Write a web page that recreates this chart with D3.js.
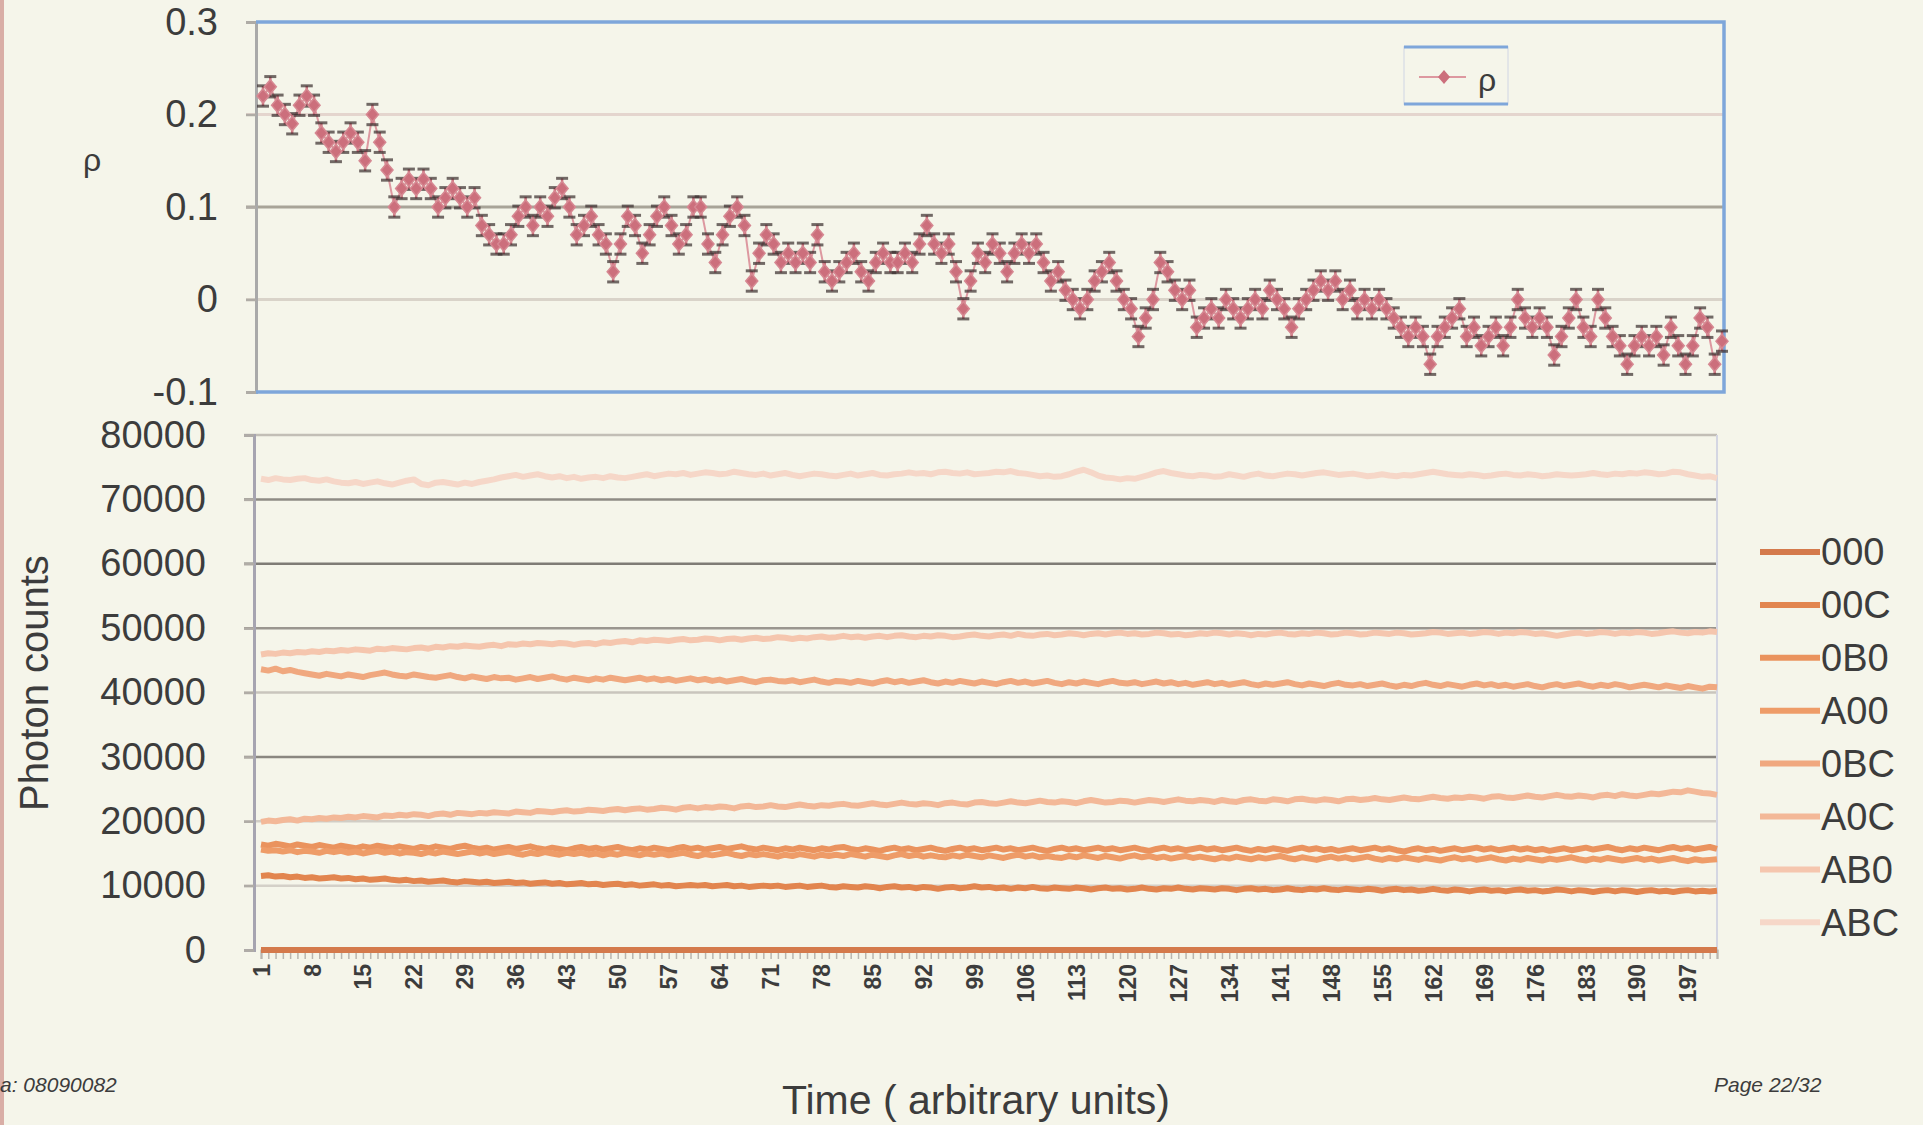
<!DOCTYPE html>
<html><head><meta charset="utf-8">
<script src="https://cdn.jsdelivr.net/npm/d3@7"></script>
<style>
html,body{margin:0;padding:0;background:#f5f5ea;}
svg{display:block;}
text{font-family:"Liberation Sans",Arial,sans-serif;fill:#3c3c3c;}
</style></head><body>
<svg id="c" width="1923" height="1125"></svg>
<script>
// ---------- DATA ----------
const timePoints = [
1,2,3,4,5,6,7,8,9,10,11,12,13,14,15,16,17,18,19,20,
21,22,23,24,25,26,27,28,29,30,31,32,33,34,35,36,37,38,39,40,
41,42,43,44,45,46,47,48,49,50,51,52,53,54,55,56,57,58,59,60,
61,62,63,64,65,66,67,68,69,70,71,72,73,74,75,76,77,78,79,80,
81,82,83,84,85,86,87,88,89,90,91,92,93,94,95,96,97,98,99,100,
101,102,103,104,105,106,107,108,109,110,111,112,113,114,115,116,117,118,119,120,
121,122,123,124,125,126,127,128,129,130,131,132,133,134,135,136,137,138,139,140,
141,142,143,144,145,146,147,148,149,150,151,152,153,154,155,156,157,158,159,160,
161,162,163,164,165,166,167,168,169,170,171,172,173,174,175,176,177,178,179,180,
181,182,183,184,185,186,187,188,189,190,191,192,193,194,195,196,197,198,199,200,201];
const timeTickLabels = [1,8,15,22,29,36,43,50,57,64,71,78,85,92,99,106,113,120,127,134,141,148,155,162,169,176,183,190,197];
const rhoTicks = [0.3,0.2,0.1,0,-0.1];
const countTicks = [80000,70000,60000,50000,40000,30000,20000,10000,0];
const rhoError = 0.011;

const rho = [
0.22,0.23,0.21,0.20,0.19,0.21,0.22,0.21,0.18,0.17,
0.16,0.17,0.18,0.17,0.15,0.20,0.17,0.14,0.10,0.12,
0.13,0.12,0.13,0.12,0.10,0.11,0.12,0.11,0.10,0.11,
0.08,0.07,0.06,0.06,0.07,0.09,0.10,0.08,0.10,0.09,
0.11,0.12,0.10,0.07,0.08,0.09,0.07,0.06,0.03,0.06,
0.09,0.08,0.05,0.07,0.09,0.10,0.08,0.06,0.07,0.10,
0.10,0.06,0.04,0.07,0.09,0.10,0.08,0.02,0.05,0.07,
0.06,0.04,0.05,0.04,0.05,0.04,0.07,0.03,0.02,0.03,
0.04,0.05,0.03,0.02,0.04,0.05,0.04,0.04,0.05,0.04,
0.06,0.08,0.06,0.05,0.06,0.03,-0.01,0.02,0.05,0.04,
0.06,0.05,0.03,0.05,0.06,0.05,0.06,0.04,0.02,0.03,
0.01,0.00,-0.01,0.00,0.02,0.03,0.04,0.02,0.00,-0.01,
-0.04,-0.02,0.00,0.04,0.03,0.01,0.00,0.01,-0.03,-0.02,
-0.01,-0.02,0.00,-0.01,-0.02,-0.01,0.00,-0.01,0.01,0.00,
-0.01,-0.03,-0.01,0.00,0.01,0.02,0.01,0.02,0.00,0.01,
-0.01,0.00,-0.01,0.00,-0.01,-0.02,-0.03,-0.04,-0.03,-0.04,
-0.07,-0.04,-0.03,-0.02,-0.01,-0.04,-0.03,-0.05,-0.04,-0.03,
-0.05,-0.03,0.00,-0.02,-0.03,-0.02,-0.03,-0.06,-0.04,-0.02,
0.00,-0.03,-0.04,0.00,-0.02,-0.04,-0.05,-0.07,-0.05,-0.04,
-0.05,-0.04,-0.06,-0.03,-0.05,-0.07,-0.05,-0.02,-0.03,-0.07,
-0.045];

const seriesNames = ["000","00C","0B0","A00","0BC","A0C","AB0","ABC"];

const s000 = [
0,0,0,0,0,0,0,0,0,0, 0,0,0,0,0,0,0,0,0,0, 0,0,0,0,0,0,0,0,0,0, 0,0,0,0,0,0,0,0,0,0,
0,0,0,0,0,0,0,0,0,0, 0,0,0,0,0,0,0,0,0,0, 0,0,0,0,0,0,0,0,0,0, 0,0,0,0,0,0,0,0,0,0,
0,0,0,0,0,0,0,0,0,0, 0,0,0,0,0,0,0,0,0,0, 0,0,0,0,0,0,0,0,0,0, 0,0,0,0,0,0,0,0,0,0,
0,0,0,0,0,0,0,0,0,0, 0,0,0,0,0,0,0,0,0,0, 0,0,0,0,0,0,0,0,0,0, 0,0,0,0,0,0,0,0,0,0,
0,0,0,0,0,0,0,0,0,0, 0,0,0,0,0,0,0,0,0,0, 0,0,0,0,0,0,0,0,0,0, 0,0,0,0,0,0,0,0,0,0,
0];

const s00C = [
11500,11600,11400,11500,11300,11400,11200,11300,11100,11200,
11300,11100,11200,11000,11100,10900,11000,11100,10900,10800,
10900,10700,10800,10600,10700,10800,10600,10500,10700,10600,
10500,10600,10400,10500,10600,10400,10500,10300,10400,10500,
10300,10400,10200,10300,10400,10200,10300,10100,10200,10300,
10100,10200,10000,10100,10200,10000,10100,9900,10000,10100,
10000,10100,9900,10000,10100,9900,10000,9800,9900,10000,
9900,10000,9800,9900,10000,9800,9900,10000,9800,9700,
9900,9800,9700,9900,9800,9600,9800,9900,9700,9800,
9600,9800,9700,9500,9700,9800,9600,9700,9900,9700,
9800,9600,9700,9500,9700,9600,9800,9600,9500,9700,
9600,9500,9700,9600,9400,9600,9700,9500,9600,9400,
9500,9700,9500,9400,9600,9500,9700,9500,9400,9600,
9500,9400,9600,9500,9300,9500,9600,9400,9500,9300,
9400,9600,9400,9300,9500,9400,9600,9400,9300,9500,
9400,9300,9500,9400,9200,9400,9500,9300,9400,9200,
9300,9500,9300,9200,9400,9300,9100,9300,9400,9200,
9300,9100,9300,9400,9200,9300,9100,9200,9400,9300,
9100,9300,9200,9000,9200,9300,9100,9300,9200,9000,
9200,9300,9100,9200,9000,9200,9300,9100,9200,9100,
9200];

const s0B0 = [
16400,16200,16500,16300,16100,16400,16200,16000,16300,16100,
15900,16200,16000,15800,16100,15900,16200,16000,15800,16100,
15900,15700,16000,15800,16100,15900,15700,16000,16200,15900,
15700,15900,15600,15800,16000,15700,15900,16100,15800,15600,
15900,15700,15500,15800,16000,15700,15900,15600,15800,16000,
15700,15500,15800,15600,15900,15700,15500,15800,16000,15700,
15900,15600,15800,16000,15700,15900,16100,15800,15600,15900,
15700,15500,15800,15600,15900,15700,15500,15800,15600,15900,
16000,15700,15500,15800,15600,15400,15700,15900,15600,15800,
15500,15700,15900,15600,15400,15700,15900,15600,15800,15500,
15700,15900,15600,15800,15500,15700,15900,15600,15400,15700,
15900,15600,15800,15500,15700,15900,15600,15800,15500,15700,
15900,15600,15400,15700,15900,15600,15800,15500,15700,15900,
15600,15800,15500,15700,15900,15600,15400,15700,15500,15800,
15600,15400,15700,15900,15600,15800,15500,15700,15400,15600,
15800,15500,15700,15900,15600,15800,15500,15300,15600,15800,
15500,15700,15400,15600,15800,15500,15700,15900,15600,15800,
15500,15700,15900,15600,15800,15500,15700,15400,15600,15800,
15500,15700,15900,15600,15800,16000,15700,15500,15800,15600,
15900,15700,15500,15800,16000,15700,15900,15600,15800,16000,
15700];

const sA00 = [
15600,15400,15500,15300,15500,15200,15400,15300,15100,15400,
15200,15400,15100,15300,15000,15200,15400,15100,15300,15000,
15200,15100,14900,15200,15000,15300,15100,14900,15100,15300,
15000,15200,14900,15100,15300,15000,14800,15100,14900,15200,
15000,14800,15100,14900,15100,14800,15000,14700,15000,14800,
15100,14900,14700,15000,14800,15000,14700,14900,15100,14800,
14600,14900,14700,14900,15100,14800,14600,14900,14700,14900,
14700,14500,14800,14600,14900,14700,14500,14800,14600,14800,
14600,14900,14700,14500,14800,14600,14400,14700,14900,14600,
14800,14500,14700,14500,14400,14700,14500,14800,14600,14400,
14700,14500,14300,14600,14800,14500,14700,14400,14600,14400,
14300,14600,14400,14700,14500,14300,14600,14400,14200,14500,
14700,14400,14600,14300,14500,14200,14400,14600,14300,14500,
14300,14100,14400,14200,14500,14300,14100,14400,14200,14400,
14600,14300,14100,14400,14200,14000,14300,14500,14200,14400,
14100,14300,14500,14200,14000,14300,14100,14400,14200,14000,
14300,14100,13900,14200,14400,14100,14300,14000,14200,14400,
14100,13900,14200,14000,14300,14100,13900,14200,14000,14200,
14400,14100,13900,14200,14000,14300,14100,13900,14100,14300,
14000,14200,13900,14100,14300,14000,13800,14100,13900,14000,
14100];

const s0BC = [
43600,43400,43700,43300,43500,43200,43000,42800,42600,42900,
42700,42500,42800,42600,42400,42700,42900,43100,42800,42600,
42500,42800,42600,42400,42300,42500,42700,42400,42200,42500,
42300,42100,42400,42200,42300,42000,42200,42400,42100,42300,
42500,42200,42000,42300,42100,41900,42200,42000,42300,42100,
41900,42100,42300,42000,42200,41900,42100,41800,42000,42200,
41900,42100,41800,42000,41700,41900,42100,41800,41600,41900,
42000,41800,41700,41900,41600,41800,42000,41700,41500,41800,
41700,41500,41800,41600,41400,41700,41900,41600,41800,41500,
41700,41900,41600,41400,41700,41500,41800,41600,41400,41700,
41500,41300,41600,41800,41500,41700,41400,41600,41800,41500,
41300,41600,41400,41700,41500,41300,41600,41800,41500,41400,
41600,41300,41500,41700,41400,41600,41300,41500,41200,41400,
41600,41300,41500,41200,41400,41600,41300,41100,41400,41200,
41400,41600,41300,41100,41400,41200,41000,41300,41500,41200,
41100,41300,41000,41200,41400,41100,40900,41200,41000,41300,
41500,41200,41000,41300,41100,40900,41200,41400,41100,41300,
41000,41200,40900,41100,41300,41000,40800,41100,41300,41000,
41200,41400,41100,40900,41200,41000,41300,41100,40800,41000,
41200,41000,40800,41100,40900,40700,41000,40800,40600,40900,
40800];

const sA0C = [
19900,20100,20000,20200,20300,20100,20400,20300,20500,20400,
20600,20500,20700,20600,20800,20700,20600,20900,20800,21000,
20900,21100,21000,20800,21100,21200,21000,21300,21200,21100,
21300,21200,21400,21300,21200,21500,21400,21300,21600,21500,
21400,21600,21700,21500,21600,21800,21700,21600,21800,21900,
21700,21900,22000,21800,21900,22100,22000,21800,22100,22200,
22000,22200,22100,22300,22200,22000,22300,22400,22200,22300,
22500,22300,22200,22400,22600,22400,22300,22500,22400,22600,
22700,22500,22400,22600,22800,22600,22500,22700,22900,22700,
22600,22800,22700,22500,22800,22900,22700,22600,22900,23000,
22800,22700,22900,23100,22900,22800,23000,23200,23000,22900,
23100,23000,22800,23100,23300,23100,22900,23000,23200,23100,
22900,23100,23300,23200,23000,23200,23400,23200,23100,23300,
23200,23000,23300,23100,23000,23300,23400,23200,23100,23400,
23300,23100,23400,23500,23300,23200,23400,23300,23100,23400,
23500,23300,23400,23600,23400,23300,23500,23700,23500,23400,
23600,23800,23600,23500,23700,23600,23800,23700,23500,23800,
23900,23700,23600,23800,24000,23800,23700,23900,24100,23900,
23800,24000,23900,23700,24000,24100,23900,24200,24000,23900,
24100,24300,24200,24400,24600,24500,24800,24600,24400,24300,
24100];

const sAB0 = [
45900,46100,46000,46200,46100,46300,46200,46400,46300,46500,
46400,46600,46500,46700,46600,46500,46800,46700,46900,46800,
46700,46900,47000,46800,47100,47000,47200,47100,47300,47200,
47100,47300,47400,47200,47500,47400,47600,47500,47700,47600,
47500,47700,47600,47400,47600,47700,47500,47800,47700,47900,
48000,47800,48100,48000,48200,48100,48000,48200,48300,48100,
48200,48400,48300,48100,48300,48400,48200,48400,48500,48300,
48400,48600,48500,48300,48500,48400,48600,48700,48500,48600,
48800,48600,48700,48500,48700,48800,48600,48800,48900,48700,
48600,48800,48700,48900,48800,48600,48700,48900,49000,48800,
48700,48900,49000,48800,49100,48900,48800,49000,49100,48900,
49000,49200,49100,48900,49100,49200,49000,49200,49300,49100,
49200,49000,49100,49300,49200,49000,49100,48900,49000,49200,
49100,49300,49200,49000,49200,49100,48900,49100,49000,49200,
49300,49100,49000,49200,49100,49300,49200,49000,49100,49300,
49200,49000,49100,49300,49200,49100,49300,49200,49000,49100,
49200,49400,49300,49100,49200,49300,49100,49200,49400,49300,
49100,49300,49200,49400,49300,49100,49200,49000,48800,49000,
49200,49300,49100,49200,49400,49300,49100,49300,49200,49400,
49300,49100,49200,49400,49500,49300,49200,49400,49300,49500,
49400];

const sABC = [
73200,73000,73300,73100,73000,73200,73300,73000,72900,73100,
72800,72600,72500,72700,72400,72600,72800,72500,72300,72600,
72900,73100,72400,72200,72600,72700,72500,72300,72600,72400,
72700,72900,73100,73400,73600,73800,73500,73700,73900,73600,
73400,73600,73300,73500,73200,73400,73500,73300,73600,73400,
73300,73500,73700,73900,73600,73800,74000,73900,74100,73800,
74000,74200,74100,73900,74000,74300,74100,73900,73800,74000,
73700,73900,74100,73800,73600,73800,74000,73900,73700,73600,
73800,74000,73700,73900,74100,73800,73700,73900,74000,74200,
74000,74100,73900,74200,74300,74100,74000,74200,73900,74000,
74100,74300,74200,74400,74100,74000,73800,73600,73700,73500,
73600,73900,74300,74600,74200,73700,73400,73300,73100,73300,
73200,73500,73800,74200,74400,74100,73900,73700,73600,73800,
73700,73500,73600,73900,73700,73500,73800,74000,73700,73600,
73800,74000,73900,73700,73900,74100,74200,74000,73800,73900,
74000,73800,73600,73700,73900,73700,73600,73800,73700,73900,
74100,74300,74100,73900,73800,73700,73900,73800,73600,73700,
73900,74000,73800,73700,73900,73800,73600,73700,73900,73800,
73700,73800,73900,74100,73900,73800,74000,73900,74100,74000,
74200,74100,73900,74000,74300,74200,73900,73700,73500,73600,
73300];

const seriesValues = [s000, s00C, s0B0, sA00, s0BC, sA0C, sAB0, sABC];

// ---------- STYLE ----------
const seriesColors = ["#d47a4c","#e2854f","#ea935e","#ee9c68","#f0a87f","#f3b898","#f5c6ae","#f6d7c8"];

const svg = d3.select("#c");
svg.append("rect").attr("width",1923).attr("height",1125).attr("fill","#f5f5ea");
svg.append("rect").attr("x",0).attr("y",0).attr("width",4).attr("height",1125).attr("fill","#d9aea6");

// ---------- TOP CHART (rho) ----------
const T = {l:256, r:1724, t:22, b:392};
const xTop = d3.scalePoint().domain(timePoints).range([263, 1722]);
const yTop = d3.scaleLinear().domain([-0.1, 0.3]).range([T.b, T.t]);

const topGridColors = {"0.2":"#e4d5ce","0.1":"#a8a498","0":"#d9d3c9"};
[0.2,0.1,0].forEach(v => {
  svg.append("line").attr("x1",T.l-10).attr("x2",T.r).attr("y1",yTop(v)).attr("y2",yTop(v))
    .attr("stroke",topGridColors[String(v)]).attr("stroke-width",3);
});
const yAxisTop = d3.axisLeft(yTop).tickValues(rhoTicks).tickSize(10).tickPadding(28)
  .tickFormat(d => String(d));
const gTop = svg.append("g").attr("transform",`translate(${T.l},0)`).call(yAxisTop);
gTop.select(".domain").attr("stroke","#a9a9a9").attr("stroke-width",3);
gTop.selectAll(".tick line").attr("stroke","#b0aca6").attr("stroke-width",2.5);
gTop.selectAll(".tick text").attr("font-size",38).attr("fill","#454545")
  .attr("font-family","Liberation Sans, Arial, sans-serif");
svg.append("path").attr("d",`M${T.l},${T.t}H${T.r}V${T.b}H${T.l}`)
  .attr("fill","none").attr("stroke","#7ea6da").attr("stroke-width",3.5);

svg.append("text").attr("x",92).attr("y",160).attr("text-anchor","middle").attr("dy","0.35em")
  .attr("font-size",32).attr("fill","#555").text("ρ");

// rho line
const rhoLine = d3.line().x((d,i) => xTop(timePoints[i])).y(d => yTop(d));
svg.append("path").datum(rho).attr("d",rhoLine).attr("fill","none")
  .attr("stroke","#dd98a0").attr("stroke-width",2);
// error bars
const eb = svg.append("g");
rho.forEach((v,i) => {
  const x = xTop(timePoints[i]);
  eb.append("line").attr("x1",x).attr("x2",x).attr("y1",yTop(v+rhoError)).attr("y2",yTop(v-rhoError))
    .attr("stroke","#c9707c").attr("stroke-width",2.5);
  [v+rhoError, v-rhoError].forEach(e => {
    eb.append("line").attr("x1",x-6).attr("x2",x+6).attr("y1",yTop(e)).attr("y2",yTop(e))
      .attr("stroke","#3a2e2e").attr("stroke-width",3).attr("opacity",0.7);
  });
});
const diamond = "M0,-7L6,0L0,7L-6,0Z";
svg.append("g").selectAll("path").data(rho).join("path")
  .attr("d",diamond)
  .attr("transform",(d,i) => `translate(${xTop(timePoints[i])},${yTop(d)})`)
  .attr("fill","#cc6f7c").attr("stroke","#d68892").attr("stroke-width",1.5);

// top legend
const lg = svg.append("g");
lg.append("rect").attr("x",1404).attr("y",47).attr("width",104).attr("height",57)
  .attr("fill","#f5f5ea").attr("stroke","#dcdfe6").attr("stroke-width",1.5);
lg.append("line").attr("x1",1404).attr("x2",1508).attr("y1",47).attr("y2",47).attr("stroke","#7ea6da").attr("stroke-width",3);
lg.append("line").attr("x1",1404).attr("x2",1508).attr("y1",104).attr("y2",104).attr("stroke","#7ea6da").attr("stroke-width",3);
lg.append("line").attr("x1",1419).attr("x2",1466).attr("y1",77).attr("y2",77).attr("stroke","#dd98a0").attr("stroke-width",2);
lg.append("path").attr("d",diamond).attr("transform","translate(1444,77)").attr("fill","#cc6f7c");
lg.append("text").attr("x",1478).attr("y",80).attr("dy","0.35em").attr("font-size",32).attr("fill","#555").text("ρ");

// ---------- BOTTOM CHART (photon counts) ----------
const B = {l:254, r:1717, t:435, b:950};
const xBot = d3.scalePoint().domain(timePoints).range([261, 1717]);
const yBot = d3.scaleLinear().domain([0, 80000]).range([B.b, B.t]);

const botGridColors = {"80000":"#c2beb6","70000":"#8e8b84","60000":"#7f7c76","50000":"#9a968f",
  "40000":"#c9c5bd","30000":"#8a8780","20000":"#d1cdc5","10000":"#d4d0c8"};
countTicks.filter(v => v > 0).forEach(v => {
  svg.append("line").attr("x1",B.l-10).attr("x2",B.r).attr("y1",yBot(v)).attr("y2",yBot(v))
    .attr("stroke",botGridColors[String(v)]).attr("stroke-width",2.5);
});
svg.append("line").attr("x1",B.r).attr("x2",B.r).attr("y1",B.t).attr("y2",B.b)
  .attr("stroke","#d4d6e2").attr("stroke-width",2);

const yAxisBot = d3.axisLeft(yBot).tickValues(countTicks).tickSize(10).tickPadding(38)
  .tickFormat(d => String(d));
const gBot = svg.append("g").attr("transform",`translate(${B.l},0)`).call(yAxisBot);
gBot.select(".domain").attr("stroke","#a6a4b0").attr("stroke-width",3);
gBot.selectAll(".tick line").attr("stroke","#b0aca6").attr("stroke-width",2.5);
gBot.selectAll(".tick text").attr("font-size",38).attr("fill","#454545")
  .attr("font-family","Liberation Sans, Arial, sans-serif");

// x axis
const xAxis = d3.axisBottom(xBot).tickValues(timePoints).tickSize(9).tickPadding(4)
  .tickFormat(d => timeTickLabels.includes(d) ? String(d) : "");
const gX = svg.append("g").attr("transform",`translate(0,${B.b})`).call(xAxis);
gX.select(".domain").attr("stroke","#b4b0a8").attr("stroke-width",2);
gX.selectAll(".tick line").attr("stroke","#b9b5ae").attr("stroke-width",1.5);
gX.selectAll(".tick text")
  .attr("transform","rotate(-90)")
  .attr("text-anchor","end").attr("x",-14).attr("y",0).attr("dy","0.35em")
  .attr("font-size",23).attr("font-weight","bold").attr("fill","#262626")
  .attr("font-family","Liberation Sans, Arial, sans-serif");

// series lines
const lineBot = d3.line().x((d,i) => xBot(timePoints[i])).y(d => yBot(d));
seriesValues.forEach((vals, k) => {
  svg.append("path").datum(vals).attr("d",lineBot).attr("fill","none")
    .attr("stroke",seriesColors[k]).attr("stroke-width",6).attr("stroke-linejoin","round");
});

// bottom legend
const lg2 = svg.append("g");
seriesNames.forEach((n,k) => {
  const y = 552 + k*52.9;
  lg2.append("line").attr("x1",1760).attr("x2",1820).attr("y1",y).attr("y2",y)
    .attr("stroke",seriesColors[k]).attr("stroke-width",6);
  lg2.append("text").attr("x",1821).attr("y",y).attr("dy","0.35em").attr("font-size",38)
    .attr("fill","#444").text(n);
});

// axis titles
svg.append("text").attr("transform","translate(48,683) rotate(-90)").attr("text-anchor","middle")
  .attr("font-size",40).attr("fill","#444").text("Photon counts");
svg.append("text").attr("x",976).attr("y",1114).attr("text-anchor","middle")
  .attr("font-size",41).attr("fill","#444").text("Time ( arbitrary units)");

// footer
svg.append("text").attr("x",0).attr("y",1092).attr("font-size",21).attr("font-style","italic")
  .attr("fill","#111").text("a: 08090082");
svg.append("text").attr("x",1714).attr("y",1092).attr("font-size",21).attr("font-style","italic")
  .attr("fill","#111").text("Page 22/32");
</script>
</body></html>
